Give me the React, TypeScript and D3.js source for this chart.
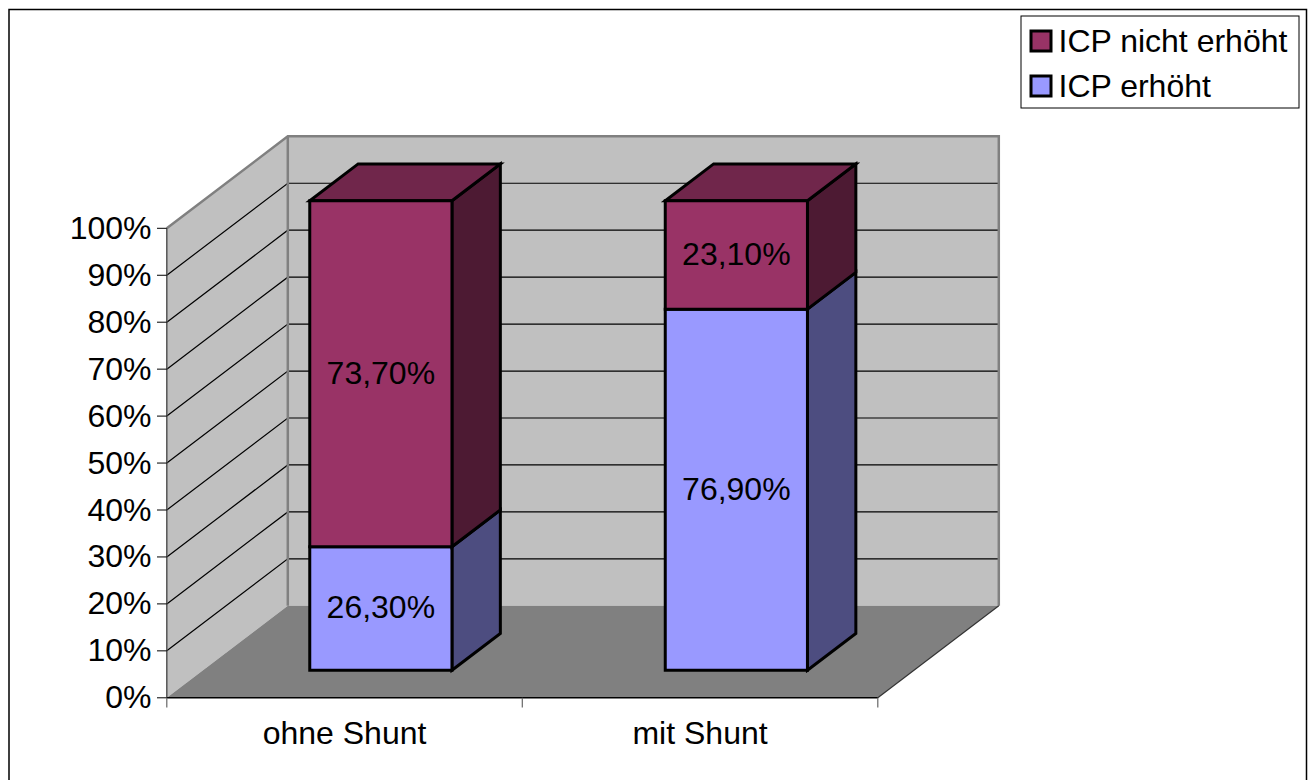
import React from "react";
import * as d3 from "d3";

const categories = ["ohne Shunt", "mit Shunt"];
const erhoeht = [26.3, 76.9];
const nichtErhoeht = [73.7, 23.1];
const valueLabels = [["26,30%", "73,70%"], ["76,90%", "23,10%"]];
const ticks = [0, 10, 20, 30, 40, 50, 60, 70, 80, 90, 100];
const seriesNames = ["ICP erhöht", "ICP nicht erhöht"];
const colors = [
  { front: "#9999ff", side: "#4d4d80", top: "#7a7acc" },
  { front: "#993366", side: "#4d1a33", top: "#70264b" },
];

const FONT = "'Liberation Sans', Arial, sans-serif";
const FS = 32;
const W = 1310, H = 780;
const XL = 166.8, XR = 877.8;

const x = d3.scaleBand<string>().domain(categories).range([XL, XR]).paddingInner(0).paddingOuter(0);
const y = d3.scaleLinear().domain([0, 100]).range([697.8, 228.3]);
const DX = 121, DY = -92;
const proj = (px: number, v: number, z: number): [number, number] => [px + DX * z, y(v) + DY * z];
const poly = (pts: [number, number][]) => d3.line()(pts) + "Z";

export default function App() {
  const bw = x.bandwidth() * 0.4;
  const z0 = 0.3, z1 = 0.7;
  return (
    <svg width={W} height={H} viewBox={`0 0 ${W} ${H}`} style={{ position: "fixed", left: 0, top: 0, background: "#fff" }} fontFamily={FONT}>
      <path d="M9 790V9.5H1306.5V790" fill="#fff" stroke="#000" strokeWidth={1.5} />
      {/* walls */}
      <path d={poly([proj(XL, 0, 0), proj(XL, 100, 0), proj(XL, 100, 1), proj(XL, 0, 1)])} fill="#c0c0c0" stroke="none" />
      <path d={poly([proj(XL, 0, 1), proj(XL, 100, 1), proj(XR, 100, 1), proj(XR, 0, 1)])} fill="#c0c0c0" stroke="none" />
      <path d={poly([proj(XL, 0, 0), proj(XR, 0, 0), proj(XR, 0, 1), proj(XL, 0, 1)])} fill="#808080" stroke="none" />
      {/* gridlines */}
      {ticks.filter(t => t > 0 && t < 100).map(t => {
        const a = proj(XL, t, 0), b = proj(XL, t, 1), c = proj(XR, t, 1);
        return <path key={t} d={d3.line()([a, b, c]) as string} fill="none" stroke="#000" strokeWidth={1.2} />;
      })}
      {/* wall outlines */}
      <path d={d3.line()([proj(XL, 100, 0), proj(XL, 100, 1), proj(XR, 100, 1), proj(XR, 0, 1)]) as string} fill="none" stroke="#808080" strokeWidth={2.5} />
      <path d={d3.line()([proj(XL, 0, 1), proj(XL, 100, 1)]) as string} fill="none" stroke="#808080" strokeWidth={2.5} />
      <path d={d3.line()([proj(XR, 0, 1), proj(XR, 0, 0)]) as string} fill="none" stroke="#333" strokeWidth={1.2} />
      <path d={d3.line()([proj(XL, 0, 0), proj(XL, 100, 0)]) as string} fill="none" stroke="#555" strokeWidth={1.5} />
      <path d={d3.line()([proj(XL, 0, 0), proj(XR, 0, 0)]) as string} fill="none" stroke="#000" strokeWidth={1.5} />
      {/* ticks */}
      {ticks.map(t => (
        <g key={t}>
          <line x1={157} x2={XL} y1={y(t)} y2={y(t)} stroke="#000" strokeWidth={1} />
          <text x={151.5} y={y(t) - 1} dy="0.36em" textAnchor="end" fontSize={FS} fill="#000">{t}%</text>
        </g>
      ))}
      {[XL, (XL + XR) / 2, XR].map(px => <line key={px} x1={px} x2={px} y1={697.8} y2={707.5} stroke="#666" strokeWidth={1.2} />)}
      {categories.map(c => (
        <text key={c} x={(x(c) as number) + x.bandwidth() / 2} y={732} dy="0.36em" textAnchor="middle" fontSize={FS} fill="#000">{c}</text>
      ))}
      {/* bars */}
      {categories.map((c, i) => {
        const cx = (x(c) as number) + x.bandwidth() / 2;
        const l = cx - bw / 2, r = cx + bw / 2;
        const stack = [[0, erhoeht[i]], [erhoeht[i], erhoeht[i] + nichtErhoeht[i]]];
        return (
          <g key={c} stroke="#000" strokeWidth={3} strokeLinejoin="miter">
            {stack.map(([a, b], s) => (
              <g key={s}>
                <path d={poly([proj(r, a, z0), proj(r, a, z1), proj(r, b, z1), proj(r, b, z0)])} fill={colors[s].side} />
                {s === 1 && <path d={poly([proj(l, b, z0), proj(r, b, z0), proj(r, b, z1), proj(l, b, z1)])} fill={colors[s].top} />}
                <path d={poly([proj(l, a, z0), proj(r, a, z0), proj(r, b, z0), proj(l, b, z0)])} fill={colors[s].front} />
              </g>
            ))}
            {stack.map(([a, b], s) => {
              const p = proj(cx, (a + b) / 2, z0);
              return <text key={s} x={p[0]} y={p[1] - 1.5} dy="0.36em" textAnchor="middle" fontSize={FS} fill="#000" stroke="none">{valueLabels[i][s]}</text>;
            })}
          </g>
        );
      })}
      {/* legend */}
      <rect x={1021} y={16} width={278} height={92} fill="#fff" stroke="#000" strokeWidth={1} />
      {[1, 0].map((s, k) => (
        <g key={s}>
          <rect x={1031} y={31 + k * 45} width={20} height={20} fill={colors[s].front} stroke="#000" strokeWidth={3} />
          <text x={1058.5} y={40 + k * 45} dy="0.36em" fontSize={FS} fill="#000">{seriesNames[s]}</text>
        </g>
      ))}
    </svg>
  );
}
